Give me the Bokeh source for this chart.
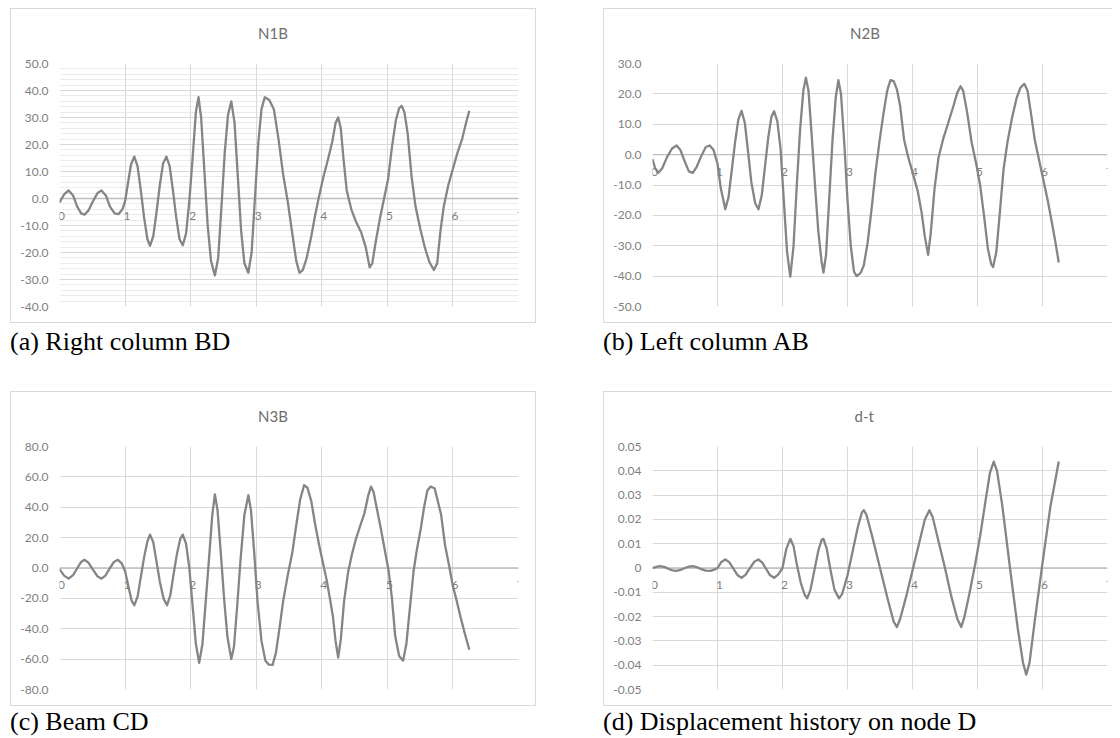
from bokeh.plotting import figure
from bokeh.models import FixedTicker, Grid, Span, Div, Spacer, Title
from bokeh.layouts import row, column
from bokeh.embed import file_html
from bokeh.resources import INLINE
from bokeh.core.properties import value

# ---------------- data ----------------
x_ticks = [0, 1, 2, 3, 4, 5, 6, 7]
x_tick_labels = ["0", "1", "2", "3", "4", "5", "6", "7"]

n1b_t = [0.00, 0.07, 0.14, 0.21, 0.27, 0.33, 0.38, 0.44, 0.51, 0.58, 0.64, 0.71, 0.77, 0.84, 0.90, 0.96,
         1.00, 1.04, 1.09, 1.14, 1.19, 1.24, 1.29, 1.34, 1.38, 1.43, 1.48, 1.53, 1.58, 1.63, 1.68, 1.73,
         1.78, 1.83, 1.88, 1.93, 1.98, 2.03, 2.08, 2.12, 2.16, 2.21, 2.26, 2.31, 2.37, 2.42, 2.47, 2.52,
         2.57, 2.62, 2.67, 2.72, 2.77, 2.82, 2.88, 2.93, 2.98, 3.03, 3.08, 3.13, 3.20, 3.27, 3.34, 3.41,
         3.48, 3.55, 3.61, 3.66, 3.71, 3.77, 3.84, 3.90, 3.96, 4.03, 4.10, 4.16, 4.21, 4.25, 4.29, 4.33,
         4.38, 4.45, 4.52, 4.60, 4.67, 4.73, 4.77, 4.83, 4.89, 4.95, 5.01, 5.07, 5.13, 5.18, 5.22, 5.26,
         5.31, 5.37, 5.43, 5.50, 5.57, 5.64, 5.71, 5.76, 5.81, 5.86, 5.93, 6.00, 6.07, 6.14, 6.20, 6.25]
n1b_v = [-1.5, 1.5, 3.0, 1.0, -3.0, -5.5, -6.0, -4.5, -1.0, 2.0, 3.0, 1.0, -3.0, -5.5, -5.8, -4.0,
         -1.0, 5.0, 12.5, 15.5, 12.0, 3.0, -7.0, -15.0, -17.5, -14.0, -5.0, 5.0, 13.0, 15.5, 12.0, 3.0,
         -7.0, -15.0, -17.3, -13.0, -1.0, 15.0, 32.0, 37.5, 30.0, 10.0, -10.0, -23.0, -28.5, -22.0, -3.0, 17.0,
         31.0, 36.0, 28.0, 8.0, -12.0, -24.0, -27.5, -20.0, 0.0, 20.0, 33.0, 37.5, 36.5, 33.0, 22.0, 9.0,
         -1.0, -13.0, -23.0, -27.5, -26.5, -22.0, -14.0, -6.0, 1.0, 8.5, 15.0, 21.0, 28.0, 30.0, 26.0, 15.0,
         3.0, -4.0, -8.5, -12.5, -18.0, -25.5, -24.0, -15.0, -7.0, 0.0, 7.0, 19.0, 29.0, 33.5, 34.3, 32.0,
         24.0, 8.0, -3.0, -11.0, -18.0, -23.5, -26.5, -24.0, -12.0, -3.0, 5.0, 11.0, 17.0, 22.0, 28.0, 32.5]

n2b_t = [0.00, 0.04, 0.09, 0.15, 0.22, 0.30, 0.37, 0.43, 0.50, 0.56, 0.62, 0.68, 0.75, 0.82, 0.88, 0.94,
         1.00, 1.05, 1.12, 1.17, 1.22, 1.27, 1.32, 1.37, 1.42, 1.47, 1.52, 1.58, 1.63, 1.68, 1.73, 1.78,
         1.83, 1.87, 1.92, 1.97, 2.02, 2.07, 2.12, 2.17, 2.22, 2.27, 2.32, 2.36, 2.40, 2.45, 2.50, 2.55,
         2.60, 2.63, 2.67, 2.72, 2.77, 2.82, 2.86, 2.90, 2.95, 3.00, 3.05, 3.10, 3.14, 3.20, 3.25, 3.31,
         3.37, 3.43, 3.49, 3.55, 3.61, 3.66, 3.71, 3.76, 3.81, 3.87, 3.93, 4.01, 4.08, 4.14, 4.19, 4.24,
         4.28, 4.34, 4.40, 4.47, 4.55, 4.63, 4.69, 4.74, 4.78, 4.84, 4.91, 4.98, 5.04, 5.10, 5.16, 5.21,
         5.24, 5.29, 5.34, 5.40, 5.46, 5.53, 5.60, 5.66, 5.72, 5.77, 5.82, 5.88, 5.94, 6.01, 6.08, 6.15,
         6.20, 6.25]
n2b_v = [-1.5, -4.5, -6.0, -4.5, -1.0, 2.0, 3.0, 1.5, -2.5, -5.5, -6.0, -4.0, -0.5, 2.5, 3.0, 1.5,
         -3.0, -11.0, -18.0, -14.0, -5.0, 4.0, 11.5, 14.4, 10.5, 1.0, -9.0, -16.0, -18.0, -13.5, -4.0, 5.5,
         12.5, 14.3, 11.0, 2.0, -15.0, -32.0, -40.2, -30.0, -10.0, 8.0, 21.0, 25.3, 21.0, 6.0, -10.0, -25.0,
         -35.0, -38.8, -33.0, -14.0, 5.0, 19.0, 24.5, 20.0, 4.0, -15.0, -30.0, -38.5, -40.0, -39.0, -36.5, -29.0,
         -18.0, -6.0, 4.0, 13.0, 21.0, 24.5, 24.2, 21.5, 16.0, 5.0, -0.5, -6.5, -12.0, -19.0, -27.0, -33.0,
         -26.0, -11.0, -1.0, 5.0, 10.5, 16.0, 20.5, 22.5, 21.0, 14.0, 4.0, -3.0, -10.0, -20.0, -31.0, -36.0,
         -37.0, -32.0, -20.0, -5.0, 4.0, 12.0, 18.5, 22.0, 23.3, 21.0, 14.0, 5.0, -1.0, -8.0, -15.0, -23.0,
         -29.0, -35.5]

n3b_t = [0.00, 0.07, 0.14, 0.21, 0.28, 0.33, 0.38, 0.44, 0.51, 0.58, 0.64, 0.70, 0.77, 0.83, 0.89, 0.95,
         1.00, 1.05, 1.10, 1.14, 1.19, 1.24, 1.29, 1.34, 1.38, 1.43, 1.48, 1.53, 1.59, 1.64, 1.69, 1.74,
         1.79, 1.84, 1.88, 1.93, 1.98, 2.03, 2.08, 2.13, 2.18, 2.23, 2.28, 2.33, 2.37, 2.41, 2.46, 2.51,
         2.56, 2.62, 2.66, 2.71, 2.76, 2.82, 2.88, 2.92, 2.97, 3.02, 3.08, 3.14, 3.19, 3.25, 3.30, 3.36,
         3.41, 3.48, 3.55, 3.61, 3.67, 3.73, 3.78, 3.84, 3.90, 3.96, 4.01, 4.07, 4.12, 4.17, 4.21, 4.25,
         4.29, 4.34, 4.40, 4.46, 4.52, 4.58, 4.65, 4.71, 4.75, 4.79, 4.84, 4.90, 4.96, 5.02, 5.07, 5.12,
         5.18, 5.24, 5.29, 5.34, 5.40, 5.45, 5.51, 5.56, 5.61, 5.66, 5.72, 5.77, 5.82, 5.88, 5.94, 6.00,
         6.06, 6.12, 6.18, 6.25]
n3b_v = [-0.7, -5.0, -7.0, -4.5, 0.5, 4.0, 5.4, 3.5, -1.0, -5.5, -7.0, -5.0, 0.0, 4.0, 5.4, 3.0,
         -2.0, -12.0, -21.5, -24.5, -19.0, -6.0, 7.0, 17.5, 22.0, 17.0, 4.0, -9.0, -20.5, -24.5, -18.0, -4.0,
         9.0, 19.0, 22.0, 16.0, 0.0, -25.0, -50.0, -62.5, -50.0, -22.0, 6.0, 35.0, 48.5, 38.0, 10.0, -20.0,
         -45.0, -60.0, -52.0, -25.0, 5.0, 35.0, 48.0, 38.0, 10.0, -22.0, -48.0, -61.0, -63.6, -63.8, -56.0, -38.0,
         -22.0, -5.0, 10.0, 28.0, 45.0, 54.5, 53.0, 44.0, 28.5, 15.0, 5.0, -7.0, -19.0, -32.0, -48.0, -59.0,
         -47.0, -22.0, -3.0, 9.0, 19.0, 27.0, 36.0, 48.0, 53.6, 50.0, 39.0, 26.0, 12.0, -2.0, -20.0, -45.0,
         -58.0, -61.0, -50.0, -28.0, -2.0, 12.0, 26.0, 40.0, 51.0, 53.6, 52.5, 44.0, 35.0, 15.0, 2.0, -12.0,
         -22.0, -33.0, -43.0, -53.8]

dt_t = [0.00, 0.06, 0.12, 0.19, 0.25, 0.31, 0.37, 0.43, 0.50, 0.56, 0.62, 0.69, 0.75, 0.82, 0.89, 0.95,
        1.00, 1.06, 1.12, 1.18, 1.25, 1.31, 1.37, 1.43, 1.50, 1.57, 1.63, 1.69, 1.75, 1.81, 1.87, 1.93,
        2.00, 2.06, 2.12, 2.17, 2.22, 2.28, 2.34, 2.38, 2.43, 2.49, 2.55, 2.60, 2.63, 2.68, 2.74, 2.80,
        2.87, 2.92, 3.00, 3.08, 3.16, 3.22, 3.25, 3.29, 3.38, 3.50, 3.62, 3.71, 3.76, 3.81, 3.90, 4.00,
        4.10, 4.19, 4.26, 4.31, 4.40, 4.50, 4.60, 4.69, 4.75, 4.80, 4.88, 4.96, 5.04, 5.12, 5.19, 5.25,
        5.30, 5.38, 5.50, 5.62, 5.70, 5.75, 5.80, 5.88, 6.00, 6.12, 6.25]
dt_v = [0.0, 0.0005, 0.0008, 0.0004, -0.0004, -0.0010, -0.0012, -0.0008, 0.0, 0.0006, 0.0008, 0.0003, -0.0005, -0.0011, -0.0012, -0.0007,
        0.0, 0.0025, 0.0035, 0.0024, -0.0005, -0.0030, -0.0040, -0.0028, 0.0, 0.0027, 0.0035, 0.0022, -0.0005, -0.0030, -0.0040, -0.0028,
        0.0, 0.0080, 0.0120, 0.0090, 0.0015, -0.0060, -0.0110, -0.0125, -0.0090, -0.0010, 0.0070, 0.0115, 0.0120, 0.0080, -0.0010, -0.0090,
        -0.0125, -0.0105, -0.0030, 0.0070, 0.0170, 0.0228, 0.0238, 0.0220, 0.0130, 0.0, -0.0130, -0.0220, -0.0243, -0.0210, -0.0120, -0.0010,
        0.0100, 0.0200, 0.0238, 0.0210, 0.0110, 0.0, -0.0120, -0.0210, -0.0243, -0.0200, -0.0100, 0.0010, 0.0130, 0.0270, 0.0390, 0.0438,
        0.0400, 0.0260, 0.0, -0.0250, -0.0390, -0.0439, -0.0390, -0.0220, 0.0020, 0.0250, 0.0438]

n1b_y_ticks = [50, 40, 30, 20, 10, 0, -10, -20, -30, -40]
n1b_y_labels = ["50.0", "40.0", "30.0", "20.0", "10.0", "0.0", "-10.0", "-20.0", "-30.0", "-40.0"]
n1b_y_minor = [48, 46, 44, 42, 38, 36, 34, 32, 28, 26, 24, 22, 18, 16, 14, 12, 8, 6, 4, 2,
               -2, -4, -6, -8, -12, -14, -16, -18, -22, -24, -26, -28, -32, -34, -36, -38]
n2b_y_ticks = [30, 20, 10, 0, -10, -20, -30, -40, -50]
n2b_y_labels = ["30.0", "20.0", "10.0", "0.0", "-10.0", "-20.0", "-30.0", "-40.0", "-50.0"]
n3b_y_ticks = [80, 60, 40, 20, 0, -20, -40, -60, -80]
n3b_y_labels = ["80.0", "60.0", "40.0", "20.0", "0.0", "-20.0", "-40.0", "-60.0", "-80.0"]
dt_y_ticks = [0.05, 0.04, 0.03, 0.02, 0.01, 0, -0.01, -0.02, -0.03, -0.04, -0.05]
dt_y_labels = ["0.05", "0.04", "0.03", "0.02", "0.01", "0", "-0.01", "-0.02", "-0.03", "-0.04", "-0.05"]

titles = ["N1B", "N2B", "N3B", "d-t"]
captions = ["(a) Right column BD", "(b) Left column AB", "(c) Beam CD", "(d) Displacement history on node D"]

# ---------------- styling ----------------
FONT = "Lato"
LABEL_COLOR = "#7f7f7f"
GRID_COLOR = "#d9d9d9"
LINE_COLOR = "#858585"
BOX = "#d9d9d9"
H = 315
TOP, BOTTOM = 55, 17


def make_panel(title, t, v, yticks, ylabels, yminor, width, mbl, mbr, title_center, title_w, hide_right):
    ymin, ymax = min(yticks), max(yticks)
    if hide_right:
        shadow = f"inset 1px 0 0 {BOX}, inset 0 1px 0 {BOX}, inset 0 -1px 0 {BOX}"
    else:
        shadow = f"inset 0 0 0 1px {BOX}"
    p = figure(width=width, height=H, x_range=(0, 7), y_range=(ymin, ymax),
               output_backend="svg", toolbar_location=None, x_axis_location=None,
               min_border_left=mbl, min_border_right=mbr, min_border_top=TOP, min_border_bottom=BOTTOM,
               background_fill_color="white", border_fill_color=None,
               styles={"box-shadow": shadow})
    p.outline_line_color = None

    # x grid
    xg = Grid(dimension=0, ticker=FixedTicker(ticks=x_ticks), grid_line_color=GRID_COLOR, grid_line_width=1)
    p.add_layout(xg)

    # y axis & grid
    yax = p.yaxis[0]
    yax.ticker = FixedTicker(ticks=yticks, minor_ticks=yminor)
    yax.major_label_overrides = {k: s for k, s in zip(yticks, ylabels)}
    yax.axis_line_color = None
    yax.major_tick_line_color = None
    yax.minor_tick_line_color = None
    yax.major_tick_out = 0
    yax.major_tick_in = 0
    yax.minor_tick_out = 0
    yax.minor_tick_in = 0
    yax.major_label_standoff = 11
    yax.major_label_text_font = FONT
    yax.major_label_text_font_size = "12px"
    yax.major_label_text_color = LABEL_COLOR
    p.ygrid.grid_line_color = GRID_COLOR
    p.ygrid.grid_line_width = 1
    if yminor:
        p.ygrid.minor_grid_line_color = "#ebebeb"
        p.ygrid.minor_grid_line_width = 1

    # zero line
    p.add_layout(Span(location=0, dimension="width", line_color="#bdbdbd", line_width=1.4, level="underlay"))

    # series
    p.line(t, v, line_color=LINE_COLOR, line_width=2.3, line_join="round")

    # x tick labels sitting on the zero line
    p.text(x=x_ticks, y=[0] * len(x_ticks), text=x_tick_labels, text_font=value(FONT),
           text_font_size="12px", text_color=LABEL_COLOR, text_align="center",
           text_baseline="middle", x_offset=2, y_offset=17)

    # blank spacer panel between the title and the plot area
    p.add_layout(Title(text=" ", text_font_size="10px", standoff=2), "above")

    # chart title, centred on the whole chart box
    p.title.text = title
    p.title.align = "left"
    p.title.offset = title_center - mbl - title_w / 2
    p.title.text_font = FONT
    p.title.text_font_size = "15px"
    p.title.text_font_style = "normal"
    p.title.text_color = "#6e6e6e"
    p.title.standoff = 14
    return p


WA, WB = 526, 509
pa = make_panel(titles[0], n1b_t, n1b_v, n1b_y_ticks, n1b_y_labels, n1b_y_minor, WA, 49, 18, 263, 31, False)
pb = make_panel(titles[1], n2b_t, n2b_v, n2b_y_ticks, n2b_y_labels, [], WB, 49, 5, 262, 31, True)
pc = make_panel(titles[2], n3b_t, n3b_v, n3b_y_ticks, n3b_y_labels, [], WA, 49, 18, 263, 31, False)
pd = make_panel(titles[3], dt_t, dt_v, dt_y_ticks, dt_y_labels, [], WB, 49, 5, 262, 22, True)


def cap(text, w, h, lh):
    return Div(text=text, width=w, height=h, margin=(0, 0, 0, 0),
               styles={"font-family": "'Liberation Serif', 'Times New Roman', serif",
                       "font-size": "26px", "line-height": f"{lh}px", "color": "#000000",
                       "white-space": "nowrap"})


LEFT = 10
layout = column(
    Spacer(width=10, height=8),
    row(Spacer(width=LEFT, height=H), pa, Spacer(width=67, height=H), pb),
    row(Spacer(width=LEFT, height=68), cap(captions[0], WA + 67, 68, 37), cap(captions[1], WB, 68, 37)),
    row(Spacer(width=LEFT, height=H), pc, Spacer(width=67, height=H), pd),
    row(Spacer(width=LEFT, height=24), cap(captions[2], WA + 67, 24, 31), cap(captions[3], WB, 24, 31)),
)

open("out.html", "w").write(file_html(layout, INLINE))
